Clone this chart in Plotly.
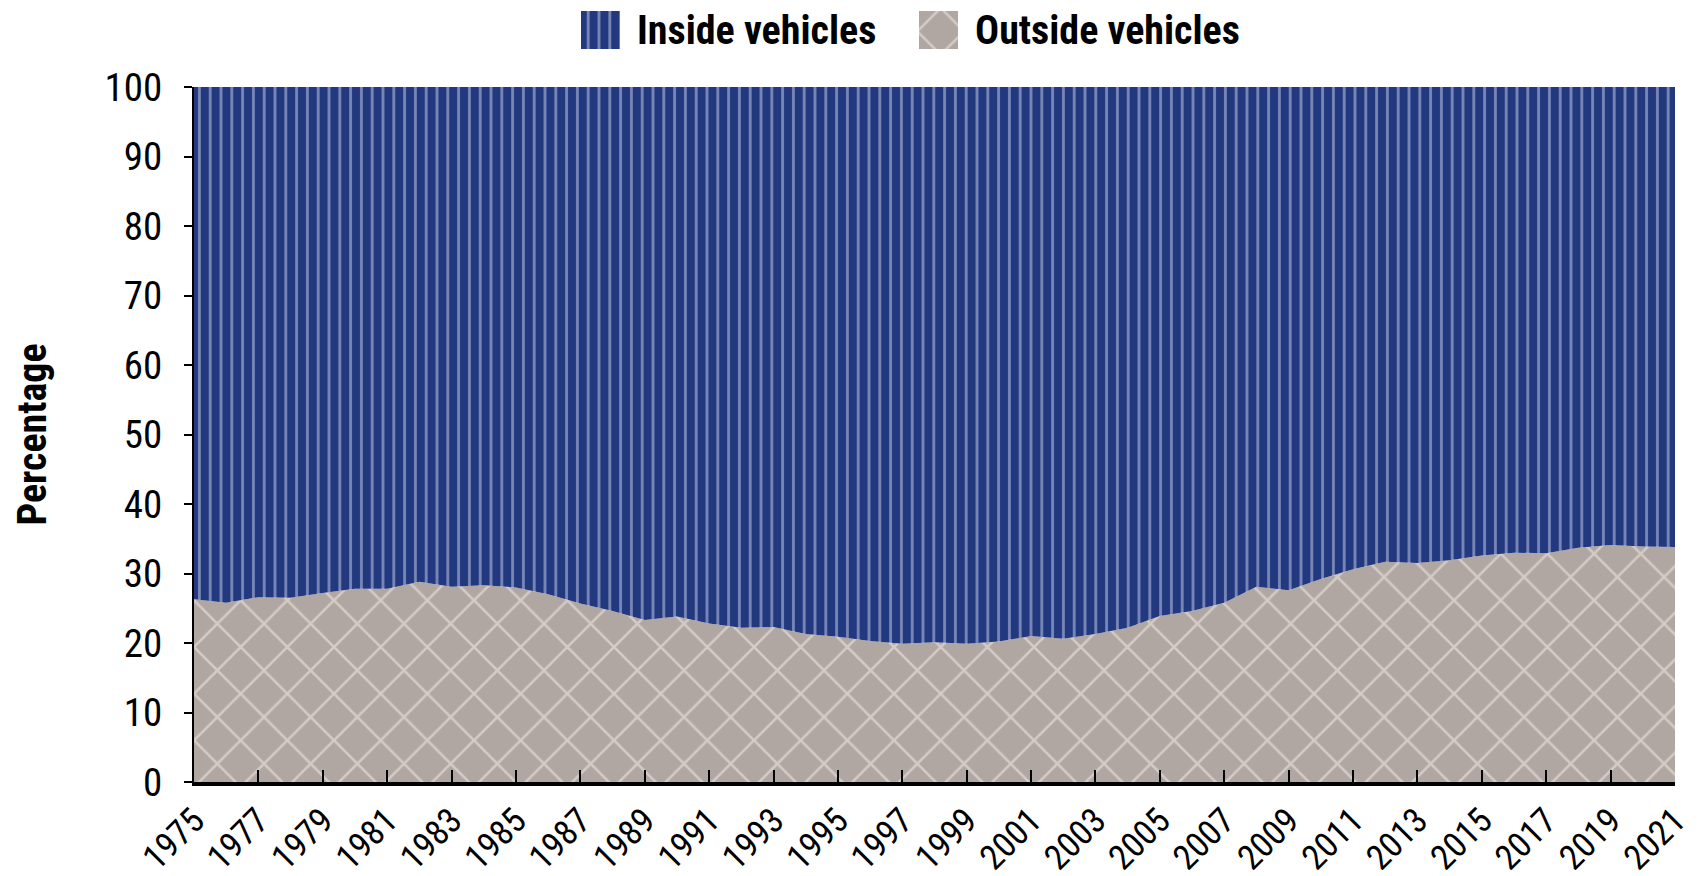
import plotly.graph_objects as go

# share of road deaths by location, per cent
years = list(range(1975, 2022))
outside_share = [
    26.3, 25.8, 26.6, 26.5, 27.2, 27.8, 27.8, 28.8, 28.1, 28.3,
    28.0, 27.0, 25.7, 24.6, 23.3, 23.8, 22.8, 22.2, 22.3, 21.3,
    20.9, 20.3, 19.9, 20.1, 19.9, 20.2, 21.0, 20.6, 21.3, 22.2,
    23.9, 24.6, 25.8, 28.1, 27.6, 29.2, 30.6, 31.7, 31.5, 31.9,
    32.6, 33.0, 32.9, 33.7, 34.1, 33.9, 33.8,
]
inside_share = [
    73.7, 74.2, 73.4, 73.5, 72.8, 72.2, 72.2, 71.2, 71.9, 71.7,
    72.0, 73.0, 74.3, 75.4, 76.7, 76.2, 77.2, 77.8, 77.7, 78.7,
    79.1, 79.7, 80.1, 79.9, 80.1, 79.8, 79.0, 79.4, 78.7, 77.8,
    76.1, 75.4, 74.2, 71.9, 72.4, 70.8, 69.4, 68.3, 68.5, 68.1,
    67.4, 67.0, 67.1, 66.3, 65.9, 66.1, 66.2,
]
tick_years = list(range(1975, 2022, 2))
y_ticks = list(range(0, 101, 10))
series_names = ["Inside vehicles", "Outside vehicles"]

FONT = "Liberation Sans Narrow, Arial Narrow, Roboto Condensed, Liberation Sans, sans-serif"
NAVY = "#22387F"
TAUPE = "#B1A7A2"
W, H = 1701, 876
M_L, M_R, M_T, M_B = 186, 34, 79, 102

inside_pattern = dict(shape="|", size=10.8, solidity=0.26, fgcolor="#D2D8EE", bgcolor=NAVY)
outside_pattern = dict(shape="x", size=33, solidity=0.15, fgcolor="#F7F0EB", bgcolor=TAUPE)

area_h = H - M_B  # plotting height with top margin folded into the domains
main_top = (H - M_T - M_B) / area_h
leg_px = 78  # strip at the top used for the hand-made legend

fig = go.Figure()
fig.add_trace(
    go.Scatter(
        x=years,
        y=outside_share,
        name=series_names[1],
        stackgroup="one",
        mode="none",
        fillcolor=TAUPE,
        fillpattern=outside_pattern,
        showlegend=False,
    )
)
fig.add_trace(
    go.Scatter(
        x=years,
        y=inside_share,
        name=series_names[0],
        stackgroup="one",
        mode="none",
        fillcolor=NAVY,
        fillpattern=inside_pattern,
        showlegend=False,
    )
)

# legend swatches (pixel coordinates in the top strip)
legend_items = [
    (series_names[0], 573, NAVY, inside_pattern),
    (series_names[1], 911, TAUPE, outside_pattern),
]
annotations = []
for name, x0, col, pat in legend_items:
    fig.add_trace(
        go.Scatter(
            x=[x0, x0 + 39, x0 + 39, x0, x0],
            y=[3, 3, 41, 41, 3],
            fill="toself",
            mode="none",
            fillcolor=col,
            fillpattern=pat,
            xaxis="x2",
            yaxis="y2",
            showlegend=False,
            hoverinfo="skip",
        )
    )
    annotations.append(
        dict(
            text=f"<b>{name}</b>",
            xref="x2",
            yref="y2",
            x=x0 + 54,
            y=22,
            xanchor="left",
            yanchor="middle",
            showarrow=False,
            font=dict(size=40, family=FONT, color="black"),
        )
    )

annotations.append(
    dict(
        text="<b>Percentage</b>",
        textangle=-90,
        xref="paper",
        yref="y domain",
        x=(24 - M_L) / (W - M_L - M_R),
        y=0.5,
        xanchor="center",
        yanchor="middle",
        showarrow=False,
        font=dict(size=40, family=FONT, color="black"),
    )
)

fig.update_layout(
    width=W,
    height=H,
    margin=dict(l=M_L, r=M_R, t=0, b=M_B),
    plot_bgcolor="white",
    paper_bgcolor="white",
    font=dict(family=FONT, size=32, color="black"),
    showlegend=False,
    annotations=annotations,
    xaxis=dict(
        domain=[0, 1],
        range=[1975, 2021],
        tickvals=tick_years,
        ticktext=[str(y) for y in tick_years],
        tickangle=-45,
        ticks="inside",
        ticklen=12,
        tickwidth=2,
        tickcolor="black",
        showline=True,
        linecolor="black",
        linewidth=4,
        showgrid=False,
        zeroline=False,
        automargin=False,
        tickfont=dict(size=35),
    ),
    yaxis=dict(
        domain=[0, main_top],
        range=[0, 100],
        tickvals=y_ticks,
        ticks="outside",
        ticklen=8,
        tickwidth=2,
        tickcolor="black",
        showline=True,
        linecolor="black",
        linewidth=2,
        showgrid=False,
        zeroline=False,
        automargin=False,
        ticklabelstandoff=14,
        tickfont=dict(size=39),
    ),
    xaxis2=dict(
        domain=[0, 1],
        anchor="y2",
        range=[M_L, W - M_R],
        visible=False,
        fixedrange=True,
    ),
    yaxis2=dict(
        domain=[1 - leg_px / area_h, 1],
        anchor="x2",
        range=[leg_px, 0],
        visible=False,
        fixedrange=True,
    ),
)

fig.write_html("out.html")
